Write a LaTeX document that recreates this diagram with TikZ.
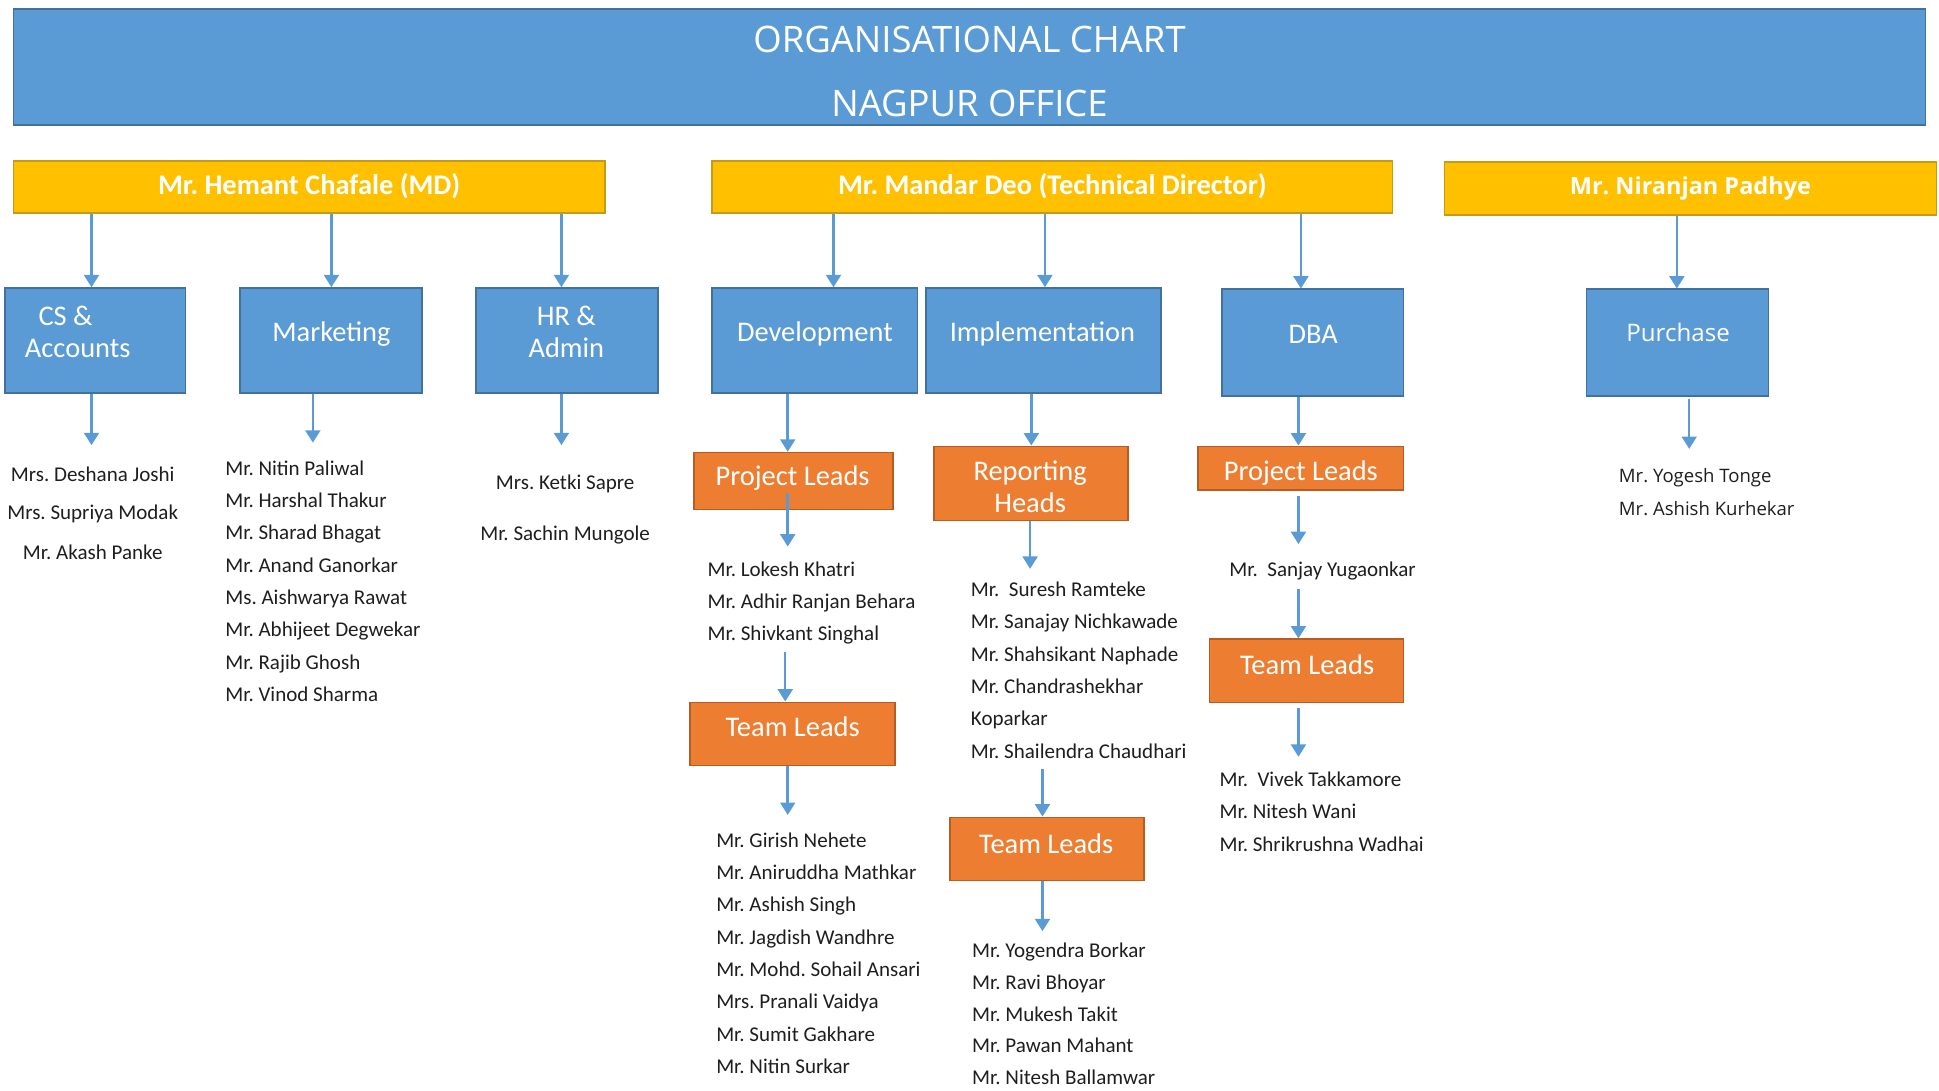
\documentclass[tikz,border=0pt]{standalone}
\usepackage{fontspec}
\setmainfont{Carlito}
\newfontfamily\osans{Open Sans}
\usetikzlibrary{arrows.meta}
\definecolor{cblue}{HTML}{5B9BD5}
\definecolor{cblueD}{HTML}{41719C}
\definecolor{corange}{HTML}{ED7D31}
\definecolor{corangeD}{HTML}{B55D22}
\definecolor{cyellow}{HTML}{FFC000}
\definecolor{cyellowD}{HTML}{C49A1A}
\definecolor{ctext}{HTML}{1E1E1E}
\frenchspacing
\tikzset{
  box/.style={rectangle, inner sep=0pt, line width=1.4pt},
  bluebox/.style={box, fill=cblue, draw=cblueD},
  orangebox/.style={box, fill=corange, draw=corangeD},
  yellowbox/.style={box, fill=cyellow, draw=cyellowD},
  boxtext/.style={text=white, font=\fontsize{23}{26}\selectfont, inner sep=0pt, text height=18.1pt, text depth=1.2pt},
  ytext/.style={text=white, font=\fontsize{23}{26}\selectfont\bfseries, inner sep=0pt, text height=18.1pt, text depth=1.2pt},
  titletext/.style={text=white, font=\osans\fontsize{29.5}{32}\selectfont, inner sep=0pt, text height=21.2pt, text depth=0pt},
  nametext/.style={text=ctext, font=\fontsize{17}{20}\selectfont, inner sep=0pt, text height=13.6pt, text depth=1.2pt, anchor=west},
  cnametext/.style={nametext, anchor=center},
  arr/.style={draw=cblue, line width=2pt, -{Triangle[width=12pt,length=10pt]}},
}
\begin{document}
\begin{tikzpicture}[x=1pt,y=-1pt]
\useasboundingbox (0,0) rectangle (1568,882);

% title
\node[bluebox, minimum width=1546pt, minimum height=94pt] (title) at (784,54) {};
\node[titletext] (title1) at (784,32) {ORGANISATIONAL CHART};
\node[titletext] (title2) at (784,84) {NAGPUR OFFICE};

% directors
\node[yellowbox, minimum width=478pt, minimum height=42pt] (hem) at (250,151) {};
\node[ytext] (hem-t) at (250,149) {Mr. Hemant Chafale (MD)};
\node[yellowbox, minimum width=550pt, minimum height=42pt] (man) at (851,151) {};
\node[ytext] (man-t) at (851,149) {Mr. Mandar Deo (Technical Director)};
\node[yellowbox, minimum width=398pt, minimum height=43pt] (nir) at (1367,152.5) {};
\node[text=white, font=\osans\bfseries\fontsize{19}{22}\selectfont, inner sep=0pt, text height=16pt, text depth=1.4pt] (nir-t) at (1367,150) {Mr. Niranjan Padhye};

% departments
\node[bluebox, minimum width=146pt, minimum height=85pt] (cs) at (77,275.5) {};
\node[boxtext, anchor=west] (cs-t1) at (31,255) {CS \&};
\node[boxtext, anchor=west] (cs-t2) at (20,281) {Accounts};
\node[bluebox, minimum width=147pt, minimum height=85pt] (mkt) at (267.5,275.5) {};
\node[boxtext] (mkt-t) at (268,268) {Marketing};
\node[bluebox, minimum width=147pt, minimum height=85pt] (hr) at (458.5,275.5) {};
\node[boxtext] (hr-t1) at (458,255) {HR \&};
\node[boxtext] (hr-t2) at (458,281) {Admin};
\node[bluebox, minimum width=166pt, minimum height=85pt] (dev) at (659,275.5) {};
\node[boxtext] (dev-t) at (659,268) {Development};
\node[bluebox, minimum width=190pt, minimum height=85pt] (imp) at (844,275.5) {};
\node[boxtext] (imp-t) at (843,268) {Implementation};
\node[bluebox, minimum width=147pt, minimum height=86pt] (dba) at (1061.5,277) {};
\node[boxtext] (dba-t) at (1062,269) {DBA};
\node[bluebox, minimum width=147pt, minimum height=86pt] (pur) at (1356.5,277) {};
\node[text=white, font=\osans\fontsize{19.5}{22}\selectfont, inner sep=0pt, text height=16.5pt, text depth=1.6pt] (pur-t) at (1357,269) {Purchase};

% orange boxes
\node[orangebox, minimum width=161pt, minimum height=46pt] (pl1) at (641.5,389) {};
\node[boxtext] (pl1-t) at (641,384) {Project Leads};
\node[orangebox, minimum width=157pt, minimum height=60pt] (rh) at (833.5,391) {};
\node[boxtext] (rh-t1) at (833,380) {Reporting};
\node[boxtext] (rh-t2) at (833,406) {Heads};
\node[orangebox, minimum width=166pt, minimum height=35pt] (pl2) at (1052,378.5) {};
\node[boxtext] (pl2-t) at (1052,380) {Project Leads};
\node[orangebox, minimum width=166pt, minimum height=51pt] (tl1) at (641,593.5) {};
\node[boxtext] (tl1-t) at (641,587) {Team Leads};
\node[orangebox, minimum width=157pt, minimum height=51pt] (tl2) at (846.5,686.5) {};
\node[boxtext] (tl2-t) at (846,682) {Team Leads};
\node[orangebox, minimum width=157pt, minimum height=51pt] (tl3) at (1056.5,542.5) {};
\node[boxtext] (tl3-t) at (1057,537) {Team Leads};

% x positions of arrows
\coordinate (x-cs) at (74,0);
\coordinate (x-mkt) at (268,0);
\coordinate (x-hr) at (454,0);
\coordinate (x-dev) at (674,0);
\coordinate (x-imp) at (845,0);
\coordinate (x-dba) at (1052,0);
\coordinate (x-pur) at (1356,0);
\coordinate (x-dev2) at (637,0);
\coordinate (x-imp2) at (834,0);
\coordinate (x-dba2) at (1050,0);

\draw[arr] (hem.south -| x-cs) -- (cs.north -| x-cs);
\draw[arr] (hem.south -| x-mkt) -- (mkt.north -| x-mkt);
\draw[arr] (hem.south -| x-hr) -- (hr.north -| x-hr);
\draw[arr] (man.south -| x-dev) -- (dev.north -| x-dev);
\draw[arr] (man.south -| x-imp) -- (imp.north -| x-imp);
\draw[arr] (man.south -| x-dba) -- (dba.north -| x-dba);
\draw[arr] (nir.south -| x-pur) -- (pur.north -| x-pur);

% end points
\coordinate (cs-e) at (74,360);
\coordinate (mkt-e) at (253,358);
\coordinate (hr-e) at (454,360);
\coordinate (pur-e) at (1366,363);
\coordinate (pl1-e) at (637,442);
\coordinate (d1-s) at (635,527);
\coordinate (tl1-e) at (637,659);
\coordinate (rh-e) at (833,460);
\coordinate (i1-s) at (843,622);
\coordinate (tl2-e) at (843,753);
\coordinate (pl2-e) at (1050,440);
\coordinate (b1-s) at (1050,476);
\coordinate (tl3-e) at (1050,612);

\draw[arr] (cs.south -| cs-e) -- (cs-e);
\draw[arr] (mkt.south -| mkt-e) -- (mkt-e);
\draw[arr] (hr.south -| hr-e) -- (hr-e);
\draw[arr] ([yshift=-2pt]pur.south -| pur-e) -- (pur-e);
\draw[arr] (dev.south -| x-dev2) -- (pl1.north -| x-dev2);
\draw[arr] (imp.south -| x-imp2) -- (rh.north -| x-imp2);
\draw[arr] (dba.south -| x-dba2) -- (pl2.north -| x-dba2);
\draw[arr] ([yshift=14pt]pl1.south -| pl1-e) -- (pl1-e);
\draw[arr] (d1-s) -- (tl1.north -| d1-s);
\draw[arr] (tl1.south -| tl1-e) -- (tl1-e);
\draw[arr] (rh.south -| rh-e) -- (rh-e);
\draw[arr] (i1-s) -- (tl2.north -| i1-s);
\draw[arr] (tl2.south -| tl2-e) -- (tl2-e);
\draw[arr] ([yshift=-4pt]pl2.south -| pl2-e) -- (pl2-e);
\draw[arr] (b1-s) -- (tl3.north -| b1-s);
\draw[arr] ([yshift=-4pt]tl3.south -| tl3-e) -- (tl3-e);

% names
\node[cnametext] (cs-n1) at (75,383) {Mrs. Deshana Joshi};
\node[cnametext] (cs-n2) at (75,414) {Mrs. Supriya Modak};
\node[cnametext] (cs-n3) at (75,446) {Mr. Akash Panke};

\foreach \t [count=\i] in {Mr. Nitin Paliwal, Mr. Harshal Thakur, Mr. Sharad Bhagat, Mr. Anand Ganorkar, Ms. Aishwarya Rawat, Mr. Abhijeet Degwekar, Mr. Rajib Ghosh, Mr. Vinod Sharma}
  \node[nametext] (mkt-n\i) at (182,{378+26.14*(\i-1)}) {\t};

\node[cnametext] (hr-n1) at (457,390) {Mrs. Ketki Sapre};
\node[cnametext] (hr-n2) at (457,431) {Mr. Sachin Mungole};

\foreach \t [count=\i] in {Mr. Lokesh Khatri, Mr. Adhir Ranjan Behara, Mr. Shivkant Singhal}
  \node[nametext] (dev1-n\i) at (572,{460+26*(\i-1)}) {\t};

\foreach \t [count=\i] in {Mr. Girish Nehete, Mr. Aniruddha Mathkar, Mr. Ashish Singh, Mr. Jagdish Wandhre, Mr. Mohd. Sohail Ansari, Mrs. Pranali Vaidya, Mr. Sumit Gakhare, Mr. Nitin Surkar}
  \node[nametext] (dev2-n\i) at (579,{679+26.14*(\i-1)}) {\t};

\foreach \t [count=\i] in {Mr.\ \ Suresh Ramteke, Mr. Sanajay Nichkawade, Mr. Shahsikant Naphade, Mr. Chandrashekhar, Koparkar, Mr. Shailendra Chaudhari}
  \node[nametext] (imp1-n\i) at (785,{476+26.2*(\i-1)}) {\t};

\foreach \t [count=\i] in {Mr. Yogendra Borkar, Mr. Ravi Bhoyar, Mr. Mukesh Takit, Mr. Pawan Mahant, Mr. Nitesh Ballamwar}
  \node[nametext] (imp2-n\i) at (786,{768+25.75*(\i-1)}) {\t};

\node[nametext] (dba1-n1) at (994,460) {Mr.\ \ Sanjay Yugaonkar};

\foreach \t [count=\i] in {Mr.\ \ Vivek Takkamore, Mr. Nitesh Wani, Mr. Shrikrushna Wadhai}
  \node[nametext] (dba2-n\i) at (986,{630+26*(\i-1)}) {\t};

\node[nametext, font=\osans\fontsize{15}{18}\selectfont, text height=12.2pt, text depth=1.2pt] (pur-n1) at (1309,385) {Mr. Yogesh Tonge};
\node[nametext, font=\osans\fontsize{15}{18}\selectfont, text height=12.2pt, text depth=1.2pt] (pur-n2) at (1309,411) {Mr. Ashish Kurhekar};
\end{tikzpicture}
\end{document}
